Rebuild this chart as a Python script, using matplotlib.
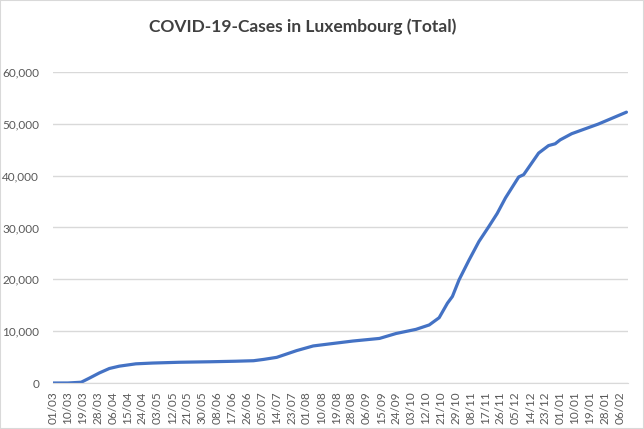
import pandas as pd
import matplotlib.pyplot as plt
from matplotlib.patches import Rectangle

# Total cases at sample dates
dates = ['2020-03-01', '2020-03-10', '2020-03-18', '2020-03-23', '2020-03-29',
         '2020-04-04', '2020-04-10', '2020-04-20', '2020-04-30', '2020-05-16',
         '2020-06-04', '2020-06-19', '2020-06-30', '2020-07-06', '2020-07-14',
         '2020-07-20', '2020-07-26', '2020-08-05', '2020-08-15', '2020-08-29',
         '2020-09-14', '2020-09-24', '2020-10-06', '2020-10-14', '2020-10-20',
         '2020-10-25', '2020-10-28', '2020-11-01', '2020-11-07', '2020-11-13',
         '2020-11-19', '2020-11-24', '2020-11-29', '2020-12-07', '2020-12-10',
         '2020-12-19', '2020-12-25', '2020-12-29', '2021-01-01', '2021-01-08',
         '2021-01-24', '2021-02-10']
cases = [0, 5, 150, 950, 1950,
         2800, 3250, 3700, 3850, 4000,
         4100, 4200, 4300, 4550, 4950,
         5600, 6250, 7150, 7550, 8100,
         8600, 9550, 10350, 11200, 12600,
         15400, 16700, 19900, 23700, 27300,
         30200, 32700, 35700, 39750, 40200,
         44350, 45800, 46150, 46900, 48100,
         49950, 52250]

tick_labels = ['01/03', '10/03', '19/03', '28/03', '06/04', '15/04', '24/04', '03/05',
               '12/05', '21/05', '30/05', '08/06', '17/06', '26/06', '05/07', '14/07',
               '23/07', '01/08', '10/08', '19/08', '28/08', '06/09', '15/09', '24/09',
               '03/10', '12/10', '21/10', '29/10', '08/11', '17/11', '26/11', '05/12',
               '14/12', '23/12', '01/01', '10/01', '19/01', '28/01', '06/02']

plt.rcParams['font.family'] = ['Lato', 'DejaVu Sans']

d = pd.to_datetime(dates)
days = (d - d[0]).days

fig = plt.figure(figsize=(6.44, 4.29), dpi=100)
fig.patches.append(Rectangle((0, 0), 1, 1, transform=fig.transFigure, fill=False,
                             edgecolor='#d9d9d9', linewidth=1.5))
ax = fig.add_axes([0.0823, 0.1072, 0.893, 0.725])

ax.plot(days, cases, color='#4472C4', linewidth=2.3, solid_capstyle='round')

ax.set_ylim(0, 60000)
ax.set_xlim(0, days[-1] + 1)
ax.set_yticks(range(0, 60001, 10000))
ax.set_yticklabels([f'{v:,}' for v in range(0, 60001, 10000)])
ax.set_xticks(range(0, 9 * len(tick_labels), 9))
ax.set_xticklabels(tick_labels, rotation=90)

ax.grid(axis='y', color='#d9d9d9', linewidth=1)
ax.set_axisbelow(True)
for s in ['top', 'right', 'left']:
    ax.spines[s].set_visible(False)
ax.spines['bottom'].set_color('#d9d9d9')
ax.tick_params(axis='both', length=0, colors='#595959', labelsize=8.5)
ax.tick_params(axis='y', pad=10)
ax.tick_params(axis='x', pad=6)

fig.text(0.470, 0.937, 'COVID-19-Cases in Luxembourg (Total)', ha='center', va='center',
         fontsize=12.5, fontweight='bold', color='#404040')

fig.savefig('out.png', dpi=100)
